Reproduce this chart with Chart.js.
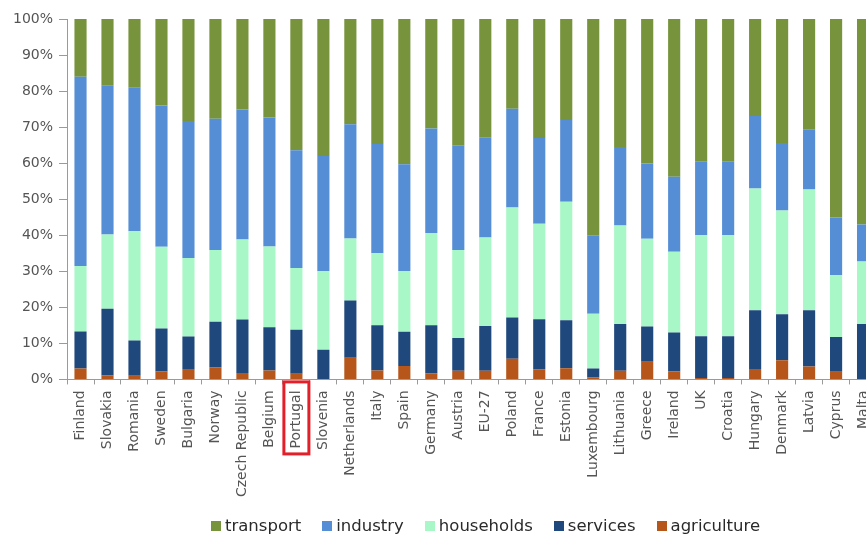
<!DOCTYPE html>
<html>
<head>
<meta charset="utf-8">
<title>Final energy consumption by sector</title>
<script src="https://cdn.jsdelivr.net/npm/chart.js@4.4.1/dist/chart.umd.min.js"></script>
<style>
  body { margin: 0; background: #fff; overflow: hidden; }
  #wrap { position: relative; width: 886px; height: 535px; }
  #legend {
    position: absolute; left: 211px; top: 516px;
    display: flex; align-items: center;
    font-family: "DejaVu Sans", sans-serif; font-size: 16.5px; color: #2a2a2a;
  }
  #legend .item { display: flex; align-items: center; margin-right: 21px; }
  #legend .box { width: 10px; height: 10px; margin-right: 4px; }
</style>
</head>
<body>
<div id="wrap">
  <canvas id="chart" width="886" height="535"></canvas>
  <div id="legend"></div>
</div>
<script>
// Countries, sorted as in the source ranking
const countries = ['Finland', 'Slovakia', 'Romania', 'Sweden', 'Bulgaria', 'Norway', 'Czech Republic',
  'Belgium', 'Portugal', 'Slovenia', 'Netherlands', 'Italy', 'Spain', 'Germany', 'Austria', 'EU-27',
  'Poland', 'France', 'Estonia', 'Luxembourg', 'Lithuania', 'Greece', 'Ireland', 'UK', 'Croatia',
  'Hungary', 'Denmark', 'Latvia', 'Cyprus', 'Malta'];

// Share of final energy consumption per sector (%)
const agriculture = [3.0, 1.1, 1.0, 2.2, 2.7, 3.4, 1.8, 2.5, 1.6, 0.0, 6.0, 2.5, 3.7, 1.7, 2.4, 2.4,
  5.7, 2.8, 3.1, 0.6, 2.4, 4.9, 2.2, 0.4, 0.4, 2.9, 5.3, 3.6, 2.1, 0.0];
const services = [10.3, 18.5, 9.8, 11.9, 9.2, 12.6, 14.8, 12.0, 12.2, 8.2, 15.9, 12.5, 9.5, 13.3, 9.1, 12.4,
  11.5, 13.9, 13.3, 2.4, 13.0, 9.8, 10.8, 11.6, 11.6, 16.3, 12.8, 15.6, 9.7, 15.4];
const households = [18.2, 20.6, 30.3, 22.7, 21.8, 19.9, 22.2, 22.4, 17.1, 21.8, 17.2, 20.0, 16.9, 25.6, 24.4, 24.6,
  30.5, 26.5, 32.9, 15.2, 27.3, 24.3, 22.4, 28.0, 28.0, 33.8, 28.8, 33.5, 17.1, 17.3];
const industry = [52.5, 41.3, 39.8, 39.2, 38.0, 36.4, 36.1, 35.8, 32.7, 32.0, 31.7, 30.3, 29.6, 29.0, 29.1, 27.8,
  27.4, 23.8, 22.7, 21.8, 21.8, 20.9, 20.8, 20.4, 20.4, 20.1, 18.7, 16.6, 16.0, 10.3];
const transport = [16.0, 18.5, 19.1, 24.0, 28.3, 27.7, 25.1, 27.3, 36.4, 38.0, 29.2, 34.7, 40.3, 30.4, 35.0, 32.8,
  24.9, 33.0, 28.0, 60.0, 35.5, 40.1, 43.8, 39.6, 39.6, 26.9, 34.4, 30.7, 55.1, 57.0];

const yTicks = [0, 10, 20, 30, 40, 50, 60, 70, 80, 90, 100];
const highlighted = 'Portugal';

// bottom-to-top stacking order
const series = [
  { label: 'agriculture', data: agriculture, color: '#B6561A' },
  { label: 'services', data: services, color: '#1F497D' },
  { label: 'households', data: households, color: '#A8F7C6' },
  { label: 'industry', data: industry, color: '#558ED5' },
  { label: 'transport', data: transport, color: '#77933C' },
];

const axisGrey = '#9a9a9a';

// red frame around one category label
const labelFrame = {
  id: 'labelFrame',
  afterDraw(chart) {
    const x = chart.scales.x.getPixelForValue(countries.indexOf(highlighted));
    const top = chart.chartArea.bottom + 2.5;
    const ctx = chart.ctx;
    ctx.save();
    ctx.strokeStyle = '#E3202A';
    ctx.lineWidth = 3;
    ctx.strokeRect(x - 12.5, top, 25, 72);
    ctx.restore();
  }
};

new Chart(document.getElementById('chart'), {
  type: 'bar',
  data: {
    labels: countries,
    datasets: series.map(s => ({
      label: s.label,
      data: s.data,
      backgroundColor: s.color,
      borderWidth: 0,
      categoryPercentage: 1,
      barPercentage: 0.45,
    })),
  },
  options: {
    responsive: false,
    animation: false,
    layout: { padding: { left: 7, top: 19, right: 8, bottom: 32 } },
    plugins: {
      legend: { display: false },
      tooltip: { enabled: false },
    },
    scales: {
      x: {
        stacked: true,
        grid: { drawOnChartArea: false, tickLength: 5, color: axisGrey },
        border: { color: axisGrey },
        ticks: {
          minRotation: 90, maxRotation: 90, autoSkip: false, padding: 6,
          color: '#555',
          font: { family: 'DejaVu Sans', size: 14 },
        },
      },
      y: {
        stacked: true,
        min: 0,
        max: 100,
        afterBuildTicks: axis => { axis.ticks = yTicks.map(v => ({ value: v })); },
        grid: { drawOnChartArea: false, tickLength: 8, color: axisGrey },
        border: { color: axisGrey },
        ticks: {
          padding: 6,
          color: '#555',
          font: { family: 'DejaVu Sans', size: 14 },
          callback: v => v + '%',
        },
      },
    },
  },
  plugins: [labelFrame],
});

// legend, top of stack first
const legend = document.getElementById('legend');
series.slice().reverse().forEach(s => {
  const item = document.createElement('span');
  item.className = 'item';
  item.innerHTML = '<span class="box" style="background:' + s.color + '"></span>' + s.label;
  legend.appendChild(item);
});
</script>
</body>
</html>
